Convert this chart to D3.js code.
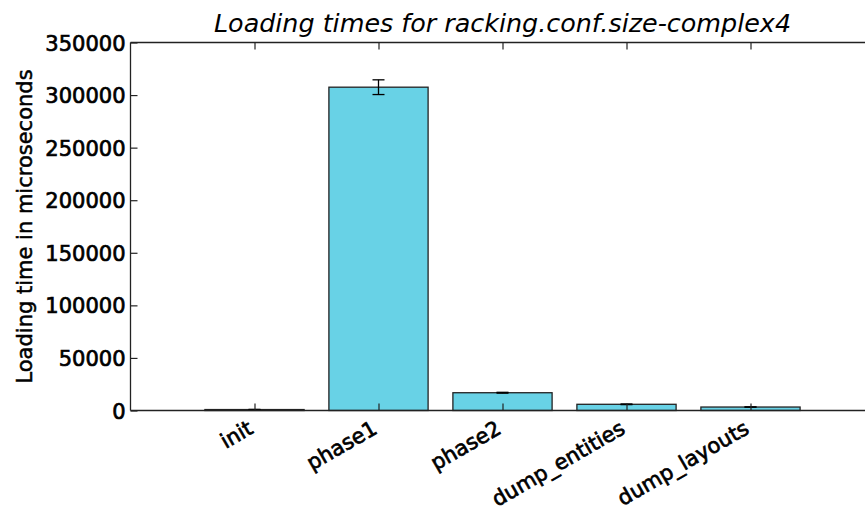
<!DOCTYPE html>
<html><head><meta charset="utf-8">
<script src="https://cdn.jsdelivr.net/npm/d3@7"></script>
<style>
html,body{margin:0;padding:0;background:#fff;}
svg{display:block;}
text{font-family:"DejaVu Sans",sans-serif;fill:#000;}
</style></head>
<body>
<svg id="c" width="865" height="510"></svg>
<script>
const categories = ["init", "phase1", "phase2", "dump_entities", "dump_layouts"];
const values = [900, 307500, 16900, 5900, 3300];
const errors = [150, 7000, 400, 300, 200];
const yTicks = [0, 50000, 100000, 150000, 200000, 250000, 300000, 350000];
const title = "Loading times for racking.conf.size-complex4";
const yLabel = "Loading time in microseconds";

const svg = d3.select("#c");
const x = d3.scaleLinear().domain([-1, 5]).range([130.5, 874.5]);
const y = d3.scaleLinear().domain([0, 350000]).range([410.5, 42.5]);
const barW = 0.8;
const tickLen = 7;

// bars
svg.append("g").selectAll("rect").data(values).join("rect")
  .attr("x", (d, i) => x(i - barW / 2))
  .attr("width", (d, i) => x(i + barW / 2) - x(i - barW / 2))
  .attr("y", d => y(d))
  .attr("height", d => y(0) - y(d))
  .attr("fill", "#68d2e6")
  .attr("stroke", "#222")
  .attr("stroke-width", 1.3);

// error bars
const eg = svg.append("g").attr("stroke", "#000").attr("stroke-width", 1.3);
values.forEach((v, i) => {
  const cx = x(i);
  eg.append("line").attr("x1", cx).attr("x2", cx).attr("y1", y(v - errors[i])).attr("y2", y(v + errors[i]));
  eg.append("line").attr("x1", cx - 6).attr("x2", cx + 6).attr("y1", y(v - errors[i])).attr("y2", y(v - errors[i]));
  eg.append("line").attr("x1", cx - 6).attr("x2", cx + 6).attr("y1", y(v + errors[i])).attr("y2", y(v + errors[i]));
});

// axes (matplotlib-like inward ticks)
const axisColor = "#222";
const yAxis = d3.axisLeft(y).tickValues(yTicks).tickSizeInner(-tickLen).tickSizeOuter(0).tickPadding(5)
  .tickFormat(d3.format("d"));
const gy = svg.append("g").attr("transform", "translate(130.5,0)").call(yAxis);
gy.select(".domain").remove();
gy.selectAll(".tick line").attr("stroke", axisColor).attr("stroke-width", 1.2);
gy.selectAll(".tick text").style("font-size", "21px").style("font-family", "DejaVu Sans")
  .attr("fill", "#000").attr("stroke", "#000").attr("stroke-width", 0.7).attr("dy", "0.36em");

const xIdx = d3.range(categories.length);
const xAxisBottom = d3.axisBottom(x).tickValues(xIdx).tickSizeInner(-tickLen).tickSizeOuter(0).tickFormat("");
const gxb = svg.append("g").attr("transform", "translate(0,410.5)").call(xAxisBottom);
gxb.select(".domain").remove();
gxb.selectAll(".tick line").attr("stroke", axisColor).attr("stroke-width", 1.2);

const xAxisTop = d3.axisTop(x).tickValues(xIdx).tickSizeInner(-tickLen).tickSizeOuter(0).tickFormat("");
const gxt = svg.append("g").attr("transform", "translate(0,42.5)").call(xAxisTop);
gxt.select(".domain").remove();
gxt.selectAll(".tick line").attr("stroke", axisColor).attr("stroke-width", 1.2);

// spines
const sp = svg.append("g").attr("stroke", axisColor).attr("stroke-width", 1.3).attr("fill", "none");
sp.append("line").attr("x1", x(-1)).attr("x2", x(-1)).attr("y1", y(0)).attr("y2", y(350000));
sp.append("line").attr("x1", x(-1)).attr("x2", x(5)).attr("y1", y(0)).attr("y2", y(0));
sp.append("line").attr("x1", x(-1)).attr("x2", x(5)).attr("y1", y(350000)).attr("y2", y(350000));
sp.append("line").attr("x1", x(5)).attr("x2", x(5)).attr("y1", y(0)).attr("y2", y(350000));

// x tick labels rotated
svg.append("g").selectAll("text").data(categories).join("text")
  .attr("transform", (d, i) => `translate(${x(i)},${y(0) + 22}) rotate(-30)`)
  .attr("text-anchor", "end")
  .style("font-size", "21px")
  .attr("stroke", "#000").attr("stroke-width", 0.7)
  .text(d => d);

// y label
svg.append("text")
  .attr("transform", `translate(32,${(y(0) + y(350000)) / 2}) rotate(-90)`)
  .attr("text-anchor", "middle")
  .style("font-size", "21px")
  .attr("stroke", "#000").attr("stroke-width", 0.5)
  .text(yLabel);

// title
svg.append("text")
  .attr("x", (x(-1) + x(5)) / 2)
  .attr("y", 32)
  .attr("text-anchor", "middle")
  .style("font-size", "25.4px")
  .style("font-style", "italic")
  .text(title);
</script>
</body></html>
